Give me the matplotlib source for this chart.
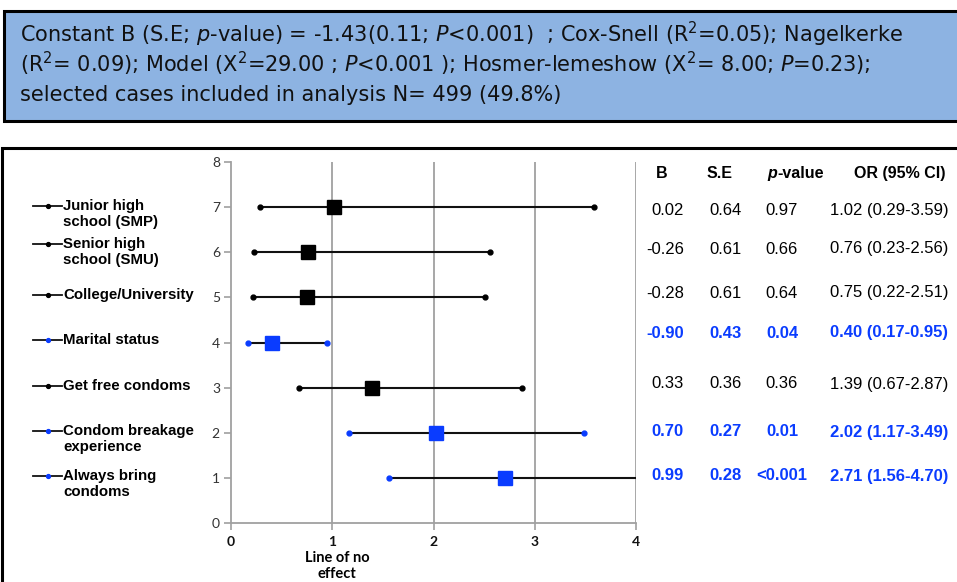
import matplotlib
matplotlib.use("Agg")
import matplotlib.pyplot as plt
from matplotlib.lines import Line2D
from matplotlib.patches import Rectangle

# ---------------- data ----------------
labels = ["Junior high\nschool (SMP)", "Senior high\nschool (SMU)", "College/University",
          "Marital status", "Get free condoms", "Condom breakage\nexperience",
          "Always bring\ncondoms"]
ypos = [7, 6, 5, 4, 3, 2, 1]
odds = [1.02, 0.76, 0.75, 0.40, 1.39, 2.02, 2.71]
ci_lo = [0.29, 0.23, 0.22, 0.17, 0.67, 1.17, 1.56]
ci_hi = [3.59, 2.56, 2.51, 0.95, 2.87, 3.49, 4.70]
b_vals = ["0.02", "-0.26", "-0.28", "-0.90", "0.33", "0.70", "0.99"]
se_vals = ["0.64", "0.61", "0.61", "0.43", "0.36", "0.27", "0.28"]
p_vals = ["0.97", "0.66", "0.64", "0.04", "0.36", "0.01", "<0.001"]
significant = [False, False, False, True, False, True, True]
x_ticks = [0, 1, 2, 3, 4]
y_ticks = [0, 1, 2, 3, 4, 5, 6, 7, 8]

summary_lines = [
    "Constant B (S.E; $\\mathit{p}$-value) = -1.43(0.11; $\\mathit{P}$<0.001)  ; "
    "Cox-Snell (R$^2$=0.05); Nagelkerke",
    "(R$^2$= 0.09); Model (X$^2$=29.00 ; $\\mathit{P}$<0.001 ); "
    "Hosmer-lemeshow (X$^2$= 8.00; $\\mathit{P}$=0.23);",
    "selected cases included in analysis N= 499 (49.8%)",
]

# ---------------- style ----------------
plt.rcParams['font.family'] = ['Liberation Sans', 'DejaVu Sans']
plt.rcParams['mathtext.fontset'] = 'custom'
plt.rcParams['mathtext.rm'] = 'Liberation Sans'
plt.rcParams['mathtext.it'] = 'Liberation Sans:italic'
plt.rcParams['mathtext.bf'] = 'Liberation Sans:bold'

BLUE = '#0a3cff'
W, H = 957, 582
fig = plt.figure(figsize=(W / 100, H / 100), dpi=100)


def fx(px):
    return px / W


def fy(py):
    return 1 - py / H


# top summary box
fig.patches.append(Rectangle((fx(4), fy(121)), fx(1000), (121 - 11) / H,
                             transform=fig.transFigure, facecolor='#8db3e2',
                             edgecolor='black', linewidth=2.2, zorder=-2))
for line, ly in zip(summary_lines, [42, 72, 101]):
    fig.text(fx(20), fy(ly), line, fontsize=15, va='baseline', ha='left',
             color='#111111', family='DejaVu Sans', math_fontfamily='dejavusans')

# lower panel border
fig.patches.append(Rectangle((fx(1.5), fy(700)), fx(1000), (700 - 148) / H,
                             transform=fig.transFigure, facecolor='white',
                             edgecolor='black', linewidth=2.2, zorder=-2))

# axes
ax = fig.add_axes([fx(231), fy(523), fx(636 - 231), (523 - 162) / H])
ax.set_xlim(0, 4)
ax.set_ylim(0, 8)
ax.patch.set_visible(False)
for s in ['top', 'right']:
    ax.spines[s].set_visible(False)
for s in ['left', 'bottom']:
    ax.spines[s].set_color('#a0a0a0')
    ax.spines[s].set_linewidth(1.3)
ax.set_xticks(x_ticks)
ax.set_yticks(y_ticks)
ax.tick_params(axis='both', colors='#a0a0a0', length=5, width=1.2)
ax.tick_params(axis='y', labelcolor='#333333', labelsize=10, pad=3)
ax.tick_params(axis='x', labelcolor='#111111', labelsize=10, pad=4)
for t in ax.get_xticklabels():
    t.set_fontweight('bold')
    t.set_family(['Lato', 'DejaVu Sans'])
for t in ax.get_yticklabels():
    t.set_family(['Lato', 'DejaVu Sans'])
for xv in x_ticks[1:]:
    ax.axvline(xv, color='#a0a0a0', lw=1.3, zorder=1)

for y, o, lo, hi, sig in zip(ypos, odds, ci_lo, ci_hi, significant):
    c = BLUE if sig else 'black'
    ax.plot([lo, hi], [y, y], color='#111111', lw=1.5, zorder=2, clip_on=True)
    ax.plot([lo, hi], [y, y], ls='none', marker='o', ms=3.5, color=c, zorder=3)
    ax.plot([o], [y], ls='none', marker='s', ms=9.5, color=c, zorder=4)

fig.text(fx(337), fy(551), "Line of no\neffect", ha='center', va='top',
         fontsize=10.5, fontweight='bold', family=['Lato', 'DejaVu Sans'],
         linespacing=1.2)

# left legend-like labels
legend_y = [206, 244, 295, 340, 386, 431, 476]
for lab, ly, sig in zip(labels, legend_y, significant):
    c = BLUE if sig else 'black'
    fig.add_artist(Line2D([fx(33), fx(62)], [fy(ly), fy(ly)], color='#111111', lw=1.3,
                          transform=fig.transFigure))
    fig.add_artist(Line2D([fx(48)], [fy(ly)], marker='o', ms=2.8, color=c,
                          transform=fig.transFigure))
    fig.text(fx(63), fy(ly - 7), lab, fontsize=10.8, fontweight='bold', va='top',
             ha='left', linespacing=1.15)

# table header
hy = fy(173)
fig.text(fx(662), hy, "B", fontsize=11.5, fontweight='bold', ha='center', va='center')
fig.text(fx(720), hy, "S.E", fontsize=11.5, fontweight='bold', ha='center', va='center')
fig.text(fx(777), hy, "p", fontsize=11.5, fontweight='bold', style='italic',
         ha='right', va='center')
fig.text(fx(777), hy, "-value", fontsize=11.5, fontweight='bold', ha='left', va='center')
fig.text(fx(900), hy, "OR (95% CI)", fontsize=11.5, fontweight='bold', ha='center',
         va='center')

# table rows
row_y = [210, 249, 293, 333, 384, 432, 476]
for i in range(len(labels)):
    sig = significant[i]
    c = BLUE if sig else 'black'
    w = 'bold' if sig else 'normal'
    or_txt = f"{odds[i]:.2f} ({ci_lo[i]:.2f}-{ci_hi[i]:.2f})"
    yy = fy(row_y[i])
    fig.text(fx(684), yy, b_vals[i], fontsize=12, color=c, fontweight=w, ha='right', va='center')
    fig.text(fx(725), yy, se_vals[i], fontsize=12, color=c, fontweight=w, ha='center', va='center')
    fig.text(fx(782), yy, p_vals[i], fontsize=12, color=c, fontweight=w, ha='center', va='center')
    fig.text(fx(889), yy, or_txt, fontsize=12, color=c, fontweight=w, ha='center', va='center')

fig.savefig("out.png", dpi=100)
